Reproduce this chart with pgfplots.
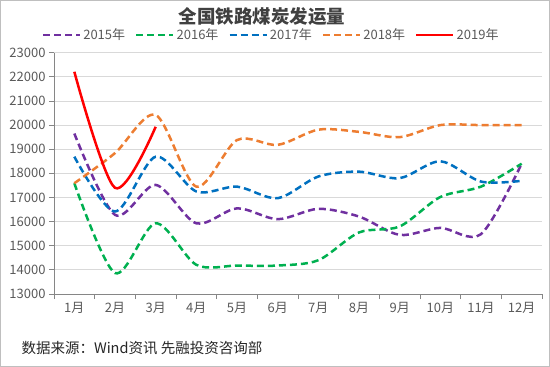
\documentclass[border=0pt]{standalone}
\usepackage{fontspec}
\setmainfont{Noto Sans CJK SC}
\usepackage{pgfplots}
\pgfplotsset{compat=1.18}
\definecolor{c15}{HTML}{7030A0}
\definecolor{c16}{HTML}{00B050}
\definecolor{c17}{HTML}{0070C0}
\definecolor{c18}{HTML}{ED7D31}
\definecolor{c19}{HTML}{FF0000}
\definecolor{txt}{HTML}{595959}
\definecolor{gridc}{HTML}{D9D9D9}
\definecolor{axc}{HTML}{868686}
\begin{document}
\begin{tikzpicture}
\useasboundingbox (-54bp,-73bp) rectangle (496bp,294bp);
\begin{axis}[
  scale only axis, width=488bp, height=241.3bp,
  xmin=0.5, xmax=12.5, ymin=13000, ymax=23000,
  ytick={13000,14000,...,23000},
  scaled y ticks=false,
  yticklabel style={/pgf/number format/fixed, /pgf/number format/1000 sep={}},
  xtick={0.5,1.5,...,12.5},
  x tick label as interval,
  xticklabels={1月,2月,3月,4月,5月,6月,7月,8月,9月,10月,11月,12月},
  ymajorgrids, major grid style={gridc, line width=0.75bp},
  tick align=outside, major tick length=5bp,
  tick style={axc, line width=0.75bp},
  axis x line*=bottom, axis y line*=left,
  axis line style={axc, line width=0.75bp},
  ticklabel style={font=\fontsize{13bp}{15bp}\selectfont, color=txt},
  /pgf/number format/assume math mode=true,
  legend columns=5,
  legend style={draw=none, fill=none, at={(0.445,1.073)}, anchor=center,
    font=\fontsize{13bp}{15bp}\selectfont, text=txt,
    /tikz/every even column/.append style={column sep=8bp}},
  legend image code/.code={\draw[#1] (0bp,0bp) -- (37bp,0bp);},
  every axis plot/.append style={line width=2.5bp, smooth, tension=0.5, line cap=butt},
]
\addplot[c15, dash pattern=on 7bp off 4bp] coordinates {(1,19650) (2,16280) (3,17520) (4,15930) (5,16550) (6,16100) (7,16530) (8,16210) (9,15450) (10,15740) (11,15480) (12,18400)};
\addlegendentry{2015年}
\addplot[c16, dash pattern=on 7bp off 4bp] coordinates {(1,17590) (2,13870) (3,15930) (4,14210) (5,14180) (6,14180) (7,14400) (8,15550) (9,15800) (10,17020) (11,17450) (12,18400)};
\addlegendentry{2016年}
\addplot[c17, dash pattern=on 7bp off 4bp] coordinates {(1,18690) (2,16420) (3,18690) (4,17250) (5,17450) (6,16970) (7,17870) (8,18070) (9,17800) (10,18500) (11,17660) (12,17690)};
\addlegendentry{2017年}
\addplot[c18, dash pattern=on 7bp off 4bp] coordinates {(1,17590) (2,18840) (3,20420) (4,17450) (5,19380) (6,19180) (7,19810) (8,19720) (9,19500) (10,20000) (11,20000) (12,20000)};
\addlegendentry{2018年}
\addplot[c19] coordinates {(1,22210) (2,17400) (3,19930)};
\addlegendentry{2019年}
\end{axis}
\node[font=\fontsize{18.5bp}{20bp}\selectfont\bfseries, text=black!75] at (208bp,277.5bp) {全国铁路煤炭发运量};
\node[anchor=west, font=\fontsize{14.5bp}{16bp}\selectfont, text=black!85] at (-36bp,-54bp) {数据来源：Wind资讯 先融投资咨询部};
\draw[color=black!25, line width=1.5bp] (-53.25bp,-72.25bp) rectangle (495.25bp,293.25bp);
\end{tikzpicture}
\end{document}
